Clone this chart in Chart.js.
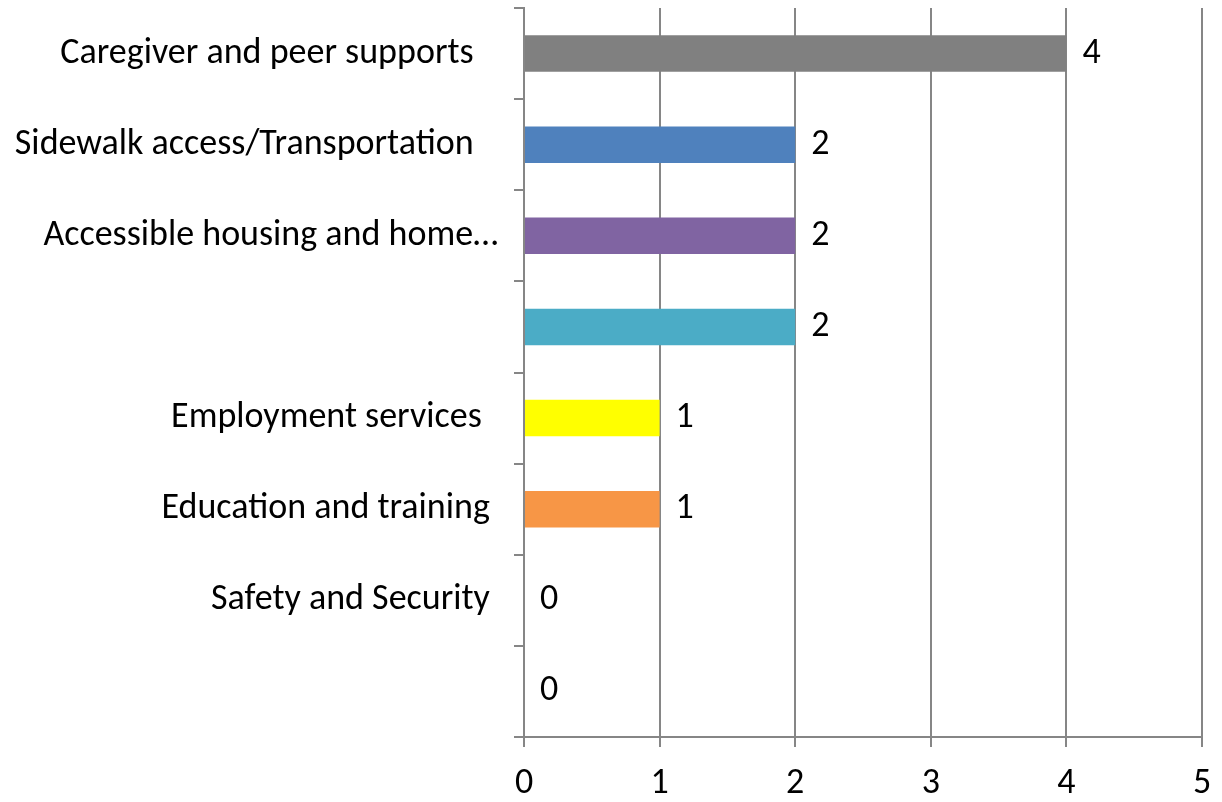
<!DOCTYPE html>
<html>
<head>
<meta charset="utf-8">
<script src="https://cdn.jsdelivr.net/npm/chart.js@4"></script>
<style>
    html, body { margin: 0; padding: 0; background: #fff; }
    #wrap { width: 1222px; height: 802px; }
</style>
</head>
<body>
<div id="wrap"><canvas id="barChart"></canvas></div>
<script>
// categories top to bottom (trailing spaces kept as in the source labels)
const categories = [
    'Caregiver and peer supports   ',
    'Sidewalk access/Transportation   ',
    'Accessible housing and home\u2026',
    '',
    'Employment services  ',
    'Education and training ',
    'Safety and Security ',
    ''
];
const counts = [4, 2, 2, 2, 1, 1, 0, 0];
const barColors = ['#808080', '#4F81BD', '#8064A2', '#4BACC6', '#FFFF00', '#F79646', '#C0504D', '#9BBB59'];
const xTicks = [0, 1, 2, 3, 4, 5];

const fontFamily = 'Carlito, "Open Sans", sans-serif';
const fontSize = 36;

// draws the value next to each bar
const valueLabels = {
    id: 'valueLabels',
    afterDatasetsDraw(chart) {
        const ctx = chart.ctx;
        const meta = chart.getDatasetMeta(0);
        ctx.save();
        ctx.font = fontSize + 'px ' + fontFamily;
        ctx.fillStyle = '#000';
        ctx.textAlign = 'left';
        ctx.textBaseline = 'middle';
        meta.data.forEach((bar, i) => {
            ctx.fillText(String(counts[i]), bar.x + 16, bar.y);
        });
        ctx.restore();
    }
};

const ctx = document.getElementById('barChart').getContext('2d');
const barChart = new Chart(ctx, {
    type: 'bar',
    data: {
        labels: categories,
        datasets: [{
            data: counts,
            backgroundColor: barColors,
            categoryPercentage: 1,
            barPercentage: 0.4
        }]
    },
    options: {
        indexAxis: 'y',
        responsive: true,
        maintainAspectRatio: false,
        animation: false,
        layout: { padding: { top: 8, right: 20, left: 0, bottom: 0 } },
        plugins: {
            legend: { display: false },
            tooltip: { enabled: false }
        },
        scales: {
            x: {
                min: 0,
                max: 5,
                afterBuildTicks: axis => { axis.ticks = xTicks.map(v => ({ value: v })); },
                afterFit: axis => {
                    axis.height = 65;
                    axis.paddingLeft = 0;
                    axis.paddingRight = 0;
                },
                border: { color: '#868686', width: 2 },
                grid: {
                    color: '#868686',
                    lineWidth: 2,
                    tickLength: 10,
                    tickColor: '#868686'
                },
                ticks: {
                    color: '#000',
                    padding: 15,
                    font: { size: fontSize, family: fontFamily }
                }
            },
            y: {
                afterFit: axis => {
                    axis.width = 524;
                    axis.paddingTop = 0;
                    axis.paddingBottom = 0;
                },
                border: { color: '#868686', width: 2 },
                grid: {
                    offset: true,
                    drawOnChartArea: false,
                    tickLength: 10,
                    tickColor: '#868686',
                    lineWidth: 2
                },
                ticks: {
                    color: '#000',
                    padding: 16,
                    autoSkip: false,
                    font: { size: fontSize, family: fontFamily }
                }
            }
        }
    },
    plugins: [valueLabels]
});
</script>
</body>
</html>
